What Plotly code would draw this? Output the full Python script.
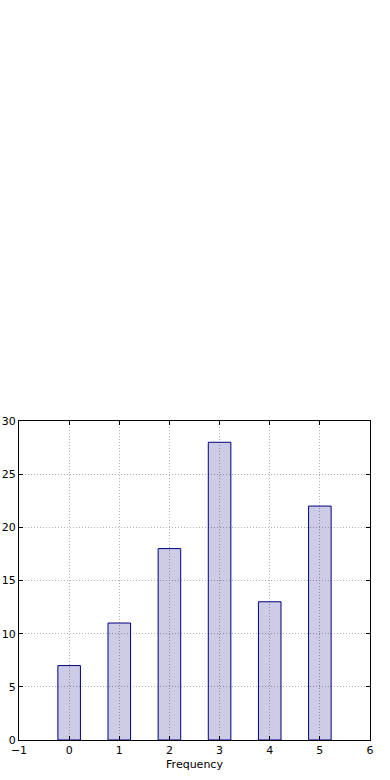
import plotly.graph_objects as go

categories = [0, 1, 2, 3, 4, 5]
frequencies = [7, 11, 18, 28, 13, 22]
x_ticks = [-1, 0, 1, 2, 3, 4, 5, 6]
y_ticks = [0, 5, 10, 15, 20, 25, 30]

fig = go.Figure(
    go.Bar(
        x=categories,
        y=frequencies,
        width=0.45,
        marker=dict(color="rgba(0,0,128,0.2)", line=dict(color="navy", width=1)),
    )
)

axis_common = dict(
    showline=True, linecolor="black", linewidth=1, mirror="allticks",
    ticks="inside", ticklen=4, tickcolor="black",
    showgrid=True, gridcolor="#b0b0b0", griddash="1px,2px", gridwidth=1,
    zeroline=False, automargin=False,
    tickfont=dict(family="DejaVu Sans", size=11, color="black"),
)

fig.update_xaxes(range=[-1, 6], tickvals=x_ticks,
                 ticktext=[("\u2212" + str(-t)) if t < 0 else str(t) for t in x_ticks],
                 title=dict(text="Frequency", font=dict(family="DejaVu Sans", size=11, color="black"), standoff=4),
                 **axis_common)
fig.update_yaxes(range=[0, 30], tickvals=y_ticks, **axis_common)

fig.update_layout(
    width=390, height=780,
    margin=dict(l=19, r=20, t=421, b=40),
    plot_bgcolor="white", paper_bgcolor="white",
    showlegend=False,
    font=dict(family="DejaVu Sans", size=11, color="black"),
)

fig.write_html("out.html")
